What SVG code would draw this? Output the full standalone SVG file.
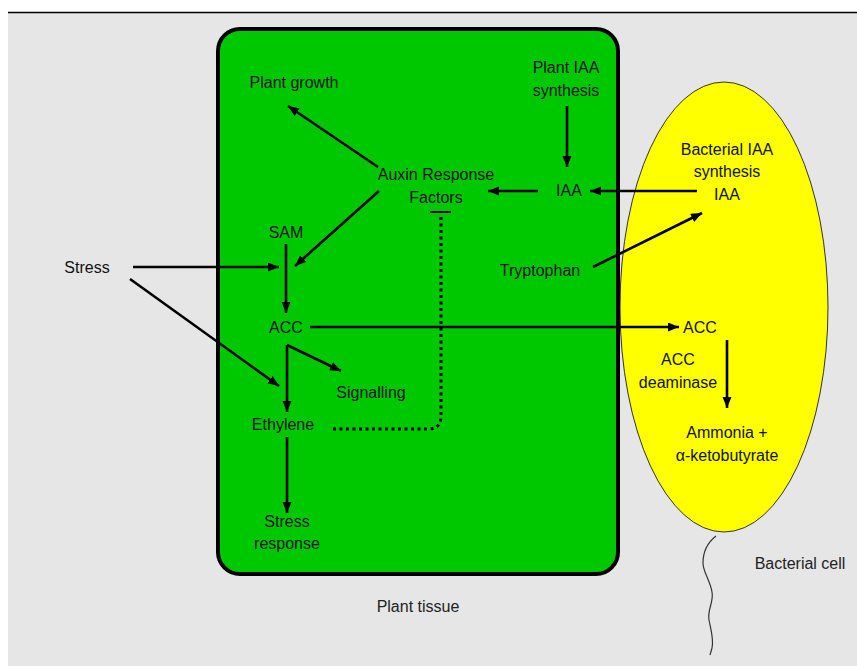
<svg xmlns="http://www.w3.org/2000/svg" width="857" height="666" viewBox="0 0 857 666">
<defs>
<style>
text{font-family:"Liberation Sans",Arial,sans-serif;font-size:16px;fill:#111;text-anchor:middle}
.lbl{fill:#222}
.arr{stroke:#000;stroke-width:2.6;fill:none;marker-end:url(#ah)}
.dot{stroke:#000;stroke-width:3;fill:none;stroke-dasharray:3 3.5}
</style>
<marker id="ah" markerUnits="userSpaceOnUse" markerWidth="12" markerHeight="10" refX="11" refY="4.5" orient="auto">
<path d="M0,0 L11,4.5 L0,9 z" fill="#000"/>
</marker>
</defs>
<rect x="0" y="0" width="857" height="666" fill="#fff"/>
<rect x="8" y="12" width="849" height="654" fill="#e6e6e6"/>
<line x1="8" y1="12.5" x2="857" y2="12.5" stroke="#000" stroke-width="1.5"/>

<g id="bacterial-cell">
<ellipse cx="724" cy="307" rx="104" ry="225" fill="#ffff00" stroke="#333" stroke-width="1"/>
<path d="M716,536 C707,543 703,553 703,563 C703,572 710,580 712,592 C714,602 707,610 709,620 C711,630 714,640 712,648 L710,655" fill="none" stroke="#333" stroke-width="1.2"/>
<text class="lbl" x="800" y="569">Bacterial cell</text>
</g>

<g id="plant-tissue">
<rect x="218" y="29" width="400" height="545" rx="22" ry="22" fill="#00c800" stroke="#000" stroke-width="4"/>
<text class="lbl" x="418" y="612">Plant tissue</text>
</g>

<g id="n-plant-growth"><text x="294" y="88">Plant growth</text></g>
<g id="n-arf"><text x="436" y="180">Auxin Response</text><text x="436" y="203">Factors</text></g>
<g id="n-plant-iaa-synth"><text x="566" y="73">Plant IAA</text><text x="566" y="96">synthesis</text></g>
<g id="n-iaa"><text x="569" y="196">IAA</text></g>
<g id="n-bact-iaa"><text x="727" y="155">Bacterial IAA</text><text x="727" y="177">synthesis</text><text x="727" y="200">IAA</text></g>
<g id="n-tryptophan"><text x="540" y="276">Tryptophan</text></g>
<g id="n-sam"><text x="286" y="238">SAM</text></g>
<g id="n-stress"><text x="87" y="273">Stress</text></g>
<g id="n-acc"><text x="286" y="333">ACC</text></g>
<g id="n-acc-b"><text x="700" y="333">ACC</text></g>
<g id="n-signalling"><text x="371" y="398">Signalling</text></g>
<g id="n-ethylene"><text x="283" y="430">Ethylene</text></g>
<g id="n-stress-response"><text x="287" y="527">Stress</text><text x="287" y="549">response</text></g>
<g id="n-acc-deaminase"><text x="678" y="365">ACC</text><text x="678" y="388">deaminase</text></g>
<g id="n-ammonia"><text x="727" y="438">Ammonia +</text><text x="727" y="461">α-ketobutyrate</text></g>

<g id="connectors">
<line class="arr" x1="378" y1="167" x2="288" y2="106"/>
<line class="arr" x1="379" y1="191" x2="295" y2="266"/>
<line class="arr" x1="286" y1="244" x2="286" y2="313"/>
<line class="arr" x1="133" y1="267" x2="279" y2="267"/>
<line class="arr" x1="130" y1="279" x2="279" y2="386"/>
<line class="arr" x1="287" y1="345" x2="287" y2="412"/>
<line class="arr" x1="287" y1="345" x2="341" y2="371"/>
<line class="arr" x1="287" y1="437" x2="287" y2="513"/>
<line class="arr" x1="538" y1="191" x2="488" y2="191"/>
<line class="arr" x1="567" y1="106" x2="567" y2="167"/>
<line class="arr" x1="697" y1="191" x2="590" y2="191"/>
<line class="arr" x1="593" y1="267" x2="702" y2="213"/>
<line class="arr" x1="310" y1="327" x2="679" y2="327"/>
<line class="arr" x1="727" y1="340" x2="727" y2="408"/>
<path class="dot" d="M333,429 L428,429 Q441,429 441,416 L441,215"/>
<line x1="430" y1="212" x2="451" y2="212" stroke="#000" stroke-width="2"/>
</g>
</svg>
